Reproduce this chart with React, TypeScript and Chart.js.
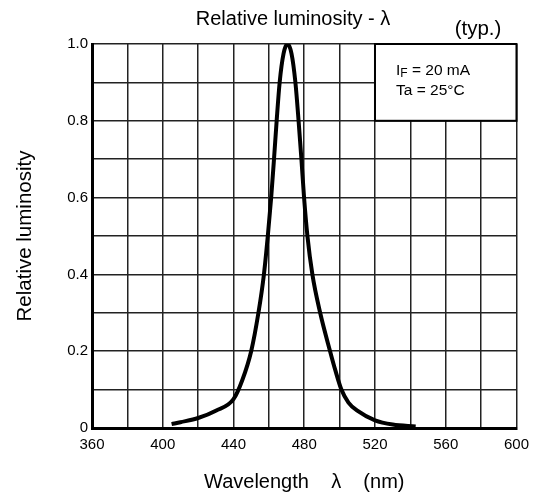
import React, { useEffect, useRef } from "react";
import { Chart, registerables } from "chart.js";

Chart.register(...registerables);

const wavelengths = [405, 410, 420, 430, 440, 445, 450, 454.1, 457.2, 459.4, 461.3, 462.9, 464.4, 466.1, 468.3, 470.5, 472.8, 475.0, 476.8, 478.4, 479.9, 481.8, 484.6, 489.0, 494.6, 497.6, 501.0, 505, 510, 520, 530, 543];
const luminosity = [0.01, 0.015, 0.026, 0.045, 0.075, 0.125, 0.2, 0.3, 0.4, 0.5, 0.6, 0.7, 0.8, 0.9, 0.975, 1.0, 0.975, 0.9, 0.8, 0.7, 0.6, 0.5, 0.4, 0.3, 0.2, 0.15, 0.1, 0.066, 0.045, 0.02, 0.009, 0.004];

const xLabels = [360, 400, 440, 480, 520, 560, 600];
const yLabels = [0, 0.2, 0.4, 0.6, 0.8, 1.0];

const titleText = "Relative luminosity - λ";
const typText = "(typ.)";
const xTitle = "Wavelength    λ    (nm)";
const yTitle = "Relative luminosity";
const condLine1Main = "I";
const condLine1Sub = "F";
const condLine1Rest = " = 20 mA";
const condLine2 = "Ta = 25°C";

const FONT = "'Liberation Sans', Arial, sans-serif";

export default function App() {
  const ref = useRef<HTMLCanvasElement | null>(null);
  useEffect(() => {
    document.body.style.margin = "0";
    const canvas = ref.current!;
    const overlay = {
      id: "overlay",
      beforeDatasetsDraw(chart: any) {
        const ctx = chart.ctx;
        const xs = chart.scales.x;
        const ys = chart.scales.y;
        const x0 = xs.getPixelForValue(520);
        const x1 = xs.getPixelForValue(600);
        const y0 = ys.getPixelForValue(1.0);
        const y1 = ys.getPixelForValue(0.8);
        ctx.save();
        ctx.fillStyle = "#fff";
        ctx.fillRect(x0, y0, x1 - x0, y1 - y0);
        ctx.strokeStyle = "#000";
        ctx.lineWidth = 2;
        ctx.strokeRect(x0, y0, x1 - x0, y1 - y0);
        ctx.fillStyle = "#000";
        ctx.textBaseline = "middle";
        ctx.textAlign = "left";
        ctx.font = `15.5px ${FONT}`;
        const tx = x0 + 21;
        ctx.fillText(condLine1Main, tx, y0 + 27);
        const wI = ctx.measureText(condLine1Main).width;
        ctx.font = `12px ${FONT}`;
        ctx.fillText(condLine1Sub, tx + wI, y0 + 30);
        const wF = ctx.measureText(condLine1Sub).width;
        ctx.font = `15.5px ${FONT}`;
        ctx.fillText(condLine1Rest, tx + wI + wF, y0 + 27);
        ctx.fillText(condLine2, tx, y0 + 47);
        ctx.restore();
      },
      afterDraw(chart: any) {
        const ctx = chart.ctx;
        ctx.save();
        ctx.fillStyle = "#000";
        ctx.textBaseline = "middle";
        ctx.textAlign = "center";
        ctx.font = `20px ${FONT}`;
        ctx.fillText(titleText, 293, 19);
        ctx.font = `20.5px ${FONT}`;
        ctx.fillText(typText, 478, 29);
        ctx.restore();
      },
    };
    const chart = new Chart(canvas, {
      type: "line",
      data: {
        datasets: [
          {
            data: wavelengths.map((w, i) => ({ x: w, y: luminosity[i] })),
            borderColor: "#000",
            borderWidth: 4,
            pointRadius: 0,
            cubicInterpolationMode: "monotone",
            fill: false,
          },
        ],
      },
      options: {
        animation: false,
        responsive: true,
        maintainAspectRatio: false,
        layout: { padding: { left: 0, right: 19, top: 44, bottom: 0 } },
        plugins: { legend: { display: false }, tooltip: { enabled: false }, title: { display: false } },
        scales: {
          x: {
            type: "linear",
            min: 360,
            max: 600,
            afterFit: (s: any) => { s.height = 71; },
            ticks: {
              stepSize: 20,
              autoSkip: false,
              maxRotation: 0,
              padding: 8,
              color: "#000",
              font: { family: FONT, size: 15 },
              callback: (v: any) => (xLabels.includes(Number(v)) ? String(v) : ""),
            },
            grid: { color: "#222", lineWidth: 1.5, drawTicks: false },
            border: { display: true, color: "#000", width: 3 },
            title: {
              display: true,
              text: xTitle,
              color: "#000",
              font: { family: FONT, size: 20 },
              padding: { top: 0, bottom: 5 },
            },
          },
          y: {
            min: 0,
            max: 1,
            afterFit: (s: any) => { s.width = 92; },
            ticks: {
              stepSize: 0.1,
              autoSkip: false,
              padding: 4,
              color: "#000",
              font: { family: FONT, size: 15 },
              callback: (v: any) => {
                const n = Math.round(Number(v) * 10) / 10;
                const m = yLabels.find((l) => Math.abs(l - n) < 1e-6);
                if (m === undefined) return "";
                return m === 0 ? "0" : m.toFixed(1);
              },
            },
            grid: { color: "#222", lineWidth: 1.5, drawTicks: false },
            border: { display: true, color: "#000", width: 3 },
            title: {
              display: true,
              text: yTitle,
              color: "#000",
              font: { family: FONT, size: 20.5 },
              padding: { top: 13, bottom: 0 },
            },
          },
        },
      },
      plugins: [overlay],
    });
    return () => chart.destroy();
  }, []);
  return (
    <div style={{ position: "fixed", left: 0, top: 0, width: 537, height: 499, background: "#fff" }}>
      <canvas ref={ref} />
    </div>
  );
}
